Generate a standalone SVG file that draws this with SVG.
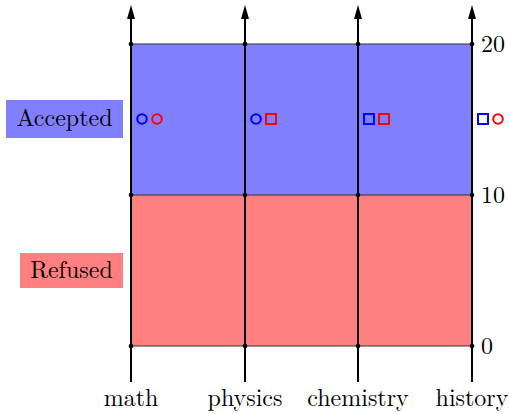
<svg xmlns="http://www.w3.org/2000/svg" width="509" height="414" viewBox="0 0 509 414">
<style>
text{font-family:"Latin Modern Roman","Liberation Serif","DejaVu Serif",serif;font-size:24px;fill:#000}
.axis{stroke:#000;stroke-width:2;fill:none}
.grid{stroke:#333;stroke-width:1.2;fill:none}
.dot{fill:#000}
.mb{fill:none;stroke:#0000ff;stroke-width:2}
.mr{fill:none;stroke:#ff0000;stroke-width:2}
</style>
<g id="regions">
<rect x="131" y="44" width="341" height="151" fill="#8080ff"/>
<rect x="131" y="195" width="341" height="151" fill="#ff8080"/>
<line class="grid" x1="131" y1="44" x2="472" y2="44"/>
<line class="grid" x1="131" y1="195" x2="472" y2="195"/>
<line class="grid" x1="131" y1="346" x2="472" y2="346"/>
</g>
<g id="connectors">
<line class="axis" x1="131" y1="382" x2="131" y2="16"/>
<line class="axis" x1="245" y1="382" x2="245" y2="16"/>
<line class="axis" x1="358" y1="382" x2="358" y2="16"/>
<line class="axis" x1="472" y1="382" x2="472" y2="16"/>
<path d="M131 5 L127 19 L135 19 Z"/>
<path d="M245 5 L241 19 L249 19 Z"/>
<path d="M358 5 L354 19 L362 19 Z"/>
<path d="M472 5 L468 19 L476 19 Z"/>
</g>
<g id="dots">
<circle class="dot" cx="131" cy="44" r="2.3"/><circle class="dot" cx="245" cy="44" r="2.3"/><circle class="dot" cx="358" cy="44" r="2.3"/><circle class="dot" cx="472" cy="44" r="2.3"/>
<circle class="dot" cx="131" cy="195" r="2.3"/><circle class="dot" cx="245" cy="195" r="2.3"/><circle class="dot" cx="358" cy="195" r="2.3"/><circle class="dot" cx="472" cy="195" r="2.3"/>
<circle class="dot" cx="131" cy="346" r="2.3"/><circle class="dot" cx="245" cy="346" r="2.3"/><circle class="dot" cx="358" cy="346" r="2.3"/><circle class="dot" cx="472" cy="346" r="2.3"/>
</g>
<g id="marks">
<circle class="mb" cx="142" cy="119" r="4.8"/><circle class="mr" cx="157" cy="119" r="4.8"/>
<circle class="mb" cx="256" cy="119" r="4.8"/><rect class="mr" x="266" y="114" width="10" height="10"/>
<rect class="mb" x="364" y="114" width="10" height="10"/><rect class="mr" x="379" y="114" width="10" height="10"/>
<rect class="mb" x="478" y="114" width="10" height="10"/><circle class="mr" cx="498" cy="119" r="4.8"/>
</g>
<g id="legend-accepted">
<rect x="6" y="100" width="117" height="38" fill="#8080ff"/>
<text x="64.5" y="126" text-anchor="middle">Accepted</text>
</g>
<g id="legend-refused">
<rect x="20" y="253" width="103" height="35" fill="#ff8080"/>
<text x="71.5" y="278" text-anchor="middle">Refused</text>
</g>
<g id="ticks">
<text x="481" y="52">20</text>
<text x="481" y="203">10</text>
<text x="481" y="354">0</text>
</g>
<g id="labels">
<text x="131" y="406" text-anchor="middle">math</text>
<text x="245" y="406" text-anchor="middle">physics</text>
<text x="358" y="406" text-anchor="middle">chemistry</text>
<text x="472" y="406" text-anchor="middle">history</text>
</g>
</svg>
